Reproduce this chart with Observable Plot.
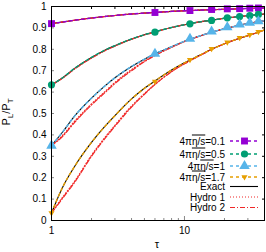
<!DOCTYPE html>
<html><head><meta charset="utf-8">
<script src="https://cdn.jsdelivr.net/npm/d3@7"></script>
<script src="https://cdn.jsdelivr.net/npm/@observablehq/plot@0.6"></script>
<style>body{margin:0;background:#fff} svg{font-family:"Liberation Sans",Arial,sans-serif}</style>
</head><body><div id="chart"></div>
<script>
// Curve sample times
const tau = [1, 1.2, 1.5, 2, 2.5, 3, 4, 5, 6, 8, 10, 13, 16, 20, 25, 30, 36, 40];
// Exact solutions (also followed by the dashed data lines)
const exact01 = [0.92, 0.927, 0.936, 0.946, 0.953, 0.958, 0.965, 0.969, 0.972, 0.977, 0.980, 0.983, 0.985, 0.987, 0.989, 0.991, 0.992, 0.993];
const exact05 = [0.634, 0.665, 0.712, 0.762, 0.795, 0.817, 0.848, 0.868, 0.882, 0.902, 0.915, 0.928, 0.936, 0.945, 0.952, 0.957, 0.962, 0.965];
const exact10 = [0.35, 0.41, 0.49, 0.572, 0.627, 0.667, 0.72, 0.754, 0.779, 0.812, 0.838, 0.862, 0.880, 0.896, 0.910, 0.920, 0.929, 0.934];
const exact17 = [0.035, 0.15, 0.255, 0.365, 0.437, 0.49, 0.568, 0.618, 0.652, 0.703, 0.737, 0.772, 0.800, 0.826, 0.848, 0.864, 0.880, 0.89];
// Hydro 1
const hydro1_01 = [0.92, 0.927, 0.936, 0.946, 0.953, 0.958, 0.965, 0.969, 0.972, 0.977, 0.980, 0.983, 0.985, 0.987, 0.989, 0.991, 0.992, 0.993];
const hydro1_05 = [0.634, 0.664, 0.710, 0.760, 0.793, 0.816, 0.847, 0.867, 0.881, 0.902, 0.915, 0.928, 0.936, 0.945, 0.952, 0.957, 0.962, 0.965];
const hydro1_10 = [0.35, 0.395, 0.465, 0.545, 0.6, 0.645, 0.705, 0.745, 0.773, 0.810, 0.836, 0.861, 0.880, 0.896, 0.910, 0.920, 0.929, 0.934];
const hydro1_17 = [0.035, 0.105, 0.185, 0.305, 0.385, 0.445, 0.535, 0.593, 0.637, 0.696, 0.733, 0.770, 0.799, 0.826, 0.848, 0.864, 0.880, 0.89];
// Hydro 2
const hydro2_01 = [0.92, 0.927, 0.936, 0.946, 0.953, 0.958, 0.965, 0.969, 0.972, 0.977, 0.980, 0.983, 0.985, 0.987, 0.989, 0.991, 0.992, 0.993];
const hydro2_05 = [0.634, 0.663, 0.709, 0.759, 0.792, 0.815, 0.847, 0.867, 0.881, 0.902, 0.915, 0.928, 0.936, 0.945, 0.952, 0.957, 0.962, 0.965];
const hydro2_10 = [0.35, 0.39, 0.46, 0.54, 0.595, 0.64, 0.70, 0.742, 0.771, 0.809, 0.836, 0.861, 0.880, 0.896, 0.910, 0.920, 0.929, 0.934];
const hydro2_17 = [0.035, 0.1, 0.18, 0.30, 0.38, 0.44, 0.53, 0.59, 0.635, 0.695, 0.732, 0.770, 0.799, 0.826, 0.848, 0.864, 0.880, 0.89];
// Marker samples
const tauMarks = [1, 6, 11, 16, 21, 26, 31, 36];
const marks01 = [0.92, 0.972, 0.981, 0.986, 0.989, 0.990, 0.992, 0.993];
const marks05 = [0.634, 0.88, 0.919, 0.935, 0.947, 0.953, 0.958, 0.963];
const marks10 = [0.35, 0.779, 0.849, 0.883, 0.903, 0.916, 0.924, 0.931];
const marks17 = [0.035, 0.65, 0.751, 0.802, 0.833, 0.854, 0.868, 0.882];

const seriesNames = ["0.1", "0.5", "1", "1.7"];
const colors = ["#9400d3", "#009e73", "#56b4e9", "#e69f00"];
const exactAll = [exact01, exact05, exact10, exact17];
const hydro1All = [hydro1_01, hydro1_05, hydro1_10, hydro1_17];
const hydro2All = [hydro2_01, hydro2_05, hydro2_10, hydro2_17];
const marksAll = [marks01, marks05, marks10, marks17];
const yTicks = [0, 0.1, 0.2, 0.3, 0.4, 0.5, 0.6, 0.7, 0.8, 0.9, 1];
const xMajor = [1, 10];
const xMinor = [2, 3, 4, 5, 6, 7, 8, 9, 20, 30, 40];
const legendLabels = ["Exact", "Hydro 1", "Hydro 2"];

const red = "#f02828";
const triDown = {draw(ctx, size) {
  const s = Math.sqrt(size / (3 * Math.sqrt(3) / 4)) ;
  const h = s * Math.sqrt(3) / 2;
  ctx.moveTo(0, h * 2 / 3);
  ctx.lineTo(s / 2, -h / 3);
  ctx.lineTo(-s / 2, -h / 3);
  ctx.closePath();
}};
const symbols = ["square", "circle", "triangle", triDown];

const rows = (arr) => arr.flatMap((vals, i) => tau.map((t, j) => ({t, v: vals[j], s: seriesNames[i]})));
const exactRows = rows(exactAll), h1Rows = rows(hydro1All), h2Rows = rows(hydro2All);
const markRows = marksAll.flatMap((vals, i) => tauMarks.map((t, j) => ({t, v: vals[j], s: seriesNames[i], k: i})));

const marksList = [
  Plot.ruleX([1], {stroke: "#999"}),
  Plot.ruleY([0], {stroke: "#888"}),
  Plot.axisY({ticks: yTicks, tickSize: 0, tickPadding: 5, fontSize: 10, label: null, tickFormat: d => String(+d.toFixed(1))}),
  Plot.axisY({ticks: yTicks, tickSize: -3, anchor: "left", text: null, label: null, stroke: "#888"}),
  Plot.axisY({ticks: yTicks, tickSize: -3, anchor: "right", text: null, label: null}),
  Plot.axisX({ticks: xMajor, tickSize: 0, tickPadding: 6, fontSize: 10, label: null, tickFormat: d => String(d)}),
  Plot.axisX({ticks: xMajor, tickSize: -4, anchor: "bottom", text: null, label: null, stroke: "#888"}),
  Plot.axisX({ticks: xMinor, tickSize: -2, anchor: "bottom", text: null, label: null, stroke: "#888"}),
  Plot.axisX({ticks: xMajor, tickSize: -4, anchor: "top", text: null, label: null}),
  Plot.axisX({ticks: xMinor, tickSize: -2, anchor: "top", text: null, label: null}),
  Plot.line(exactRows, {x: "t", y: "v", z: "s", stroke: "#000", strokeWidth: 1.1, curve: "monotone-x"}),
  Plot.line(h1Rows, {x: "t", y: "v", z: "s", stroke: red, strokeWidth: 1.2, strokeDasharray: "1,2", curve: "monotone-x"}),
  Plot.line(h2Rows, {x: "t", y: "v", z: "s", stroke: red, strokeWidth: 1.2, strokeDasharray: "5,2,1,2", curve: "monotone-x"}),
  Plot.line(exactRows, {x: "t", y: "v", z: "s", stroke: "s", strokeWidth: 1.4, strokeDasharray: "3,3", curve: "monotone-x"}),
  ...seriesNames.map((name, i) => Plot.dot(markRows.filter(d => d.k === i), {x: "t", y: "v", fill: colors[i], symbol: () => symbols[i], r: i === 1 ? 3.6 : 3.9})),
  Plot.frame({stroke: "#000", strokeWidth: 1})
];

const chart = Plot.plot({
  width: 266, height: 252,
  marginLeft: 51, marginRight: 2, marginTop: 6, marginBottom: 32,
  style: {fontFamily: "Liberation Sans, Arial, sans-serif", fontSize: "10px", background: "#fff"},
  x: {type: "log", domain: [1, 40], label: null},
  y: {domain: [0, 1], label: null},
  color: {domain: seriesNames, range: colors},
  marks: marksList
});
document.getElementById("chart").appendChild(chart);

// Labels and legend (pixel layout in the frame)
const svg = d3.select(chart);
const fs = 10;
const yl = svg.append("text").attr("transform", "translate(10,112) rotate(-90)")
  .attr("text-anchor", "middle").attr("font-size", 11).attr("fill", "#000");
yl.append("tspan").text("P");
yl.append("tspan").text("L").attr("font-size", 8).attr("dy", 3);
yl.append("tspan").text("/P").attr("dy", -3);
yl.append("tspan").text("T").attr("font-size", 8).attr("dy", 3);
svg.append("text").attr("x", 157).attr("y", 248).attr("text-anchor", "middle").attr("font-size", 11).text("τ");

const legY = [141, 154, 166, 177, 186.5, 197, 207.5];
const lx = 225, l0 = 230, l1 = 258, lm = 244.5;
seriesNames.forEach((name, i) => {
  const y = legY[i];
  const t = svg.append("text").attr("x", lx).attr("y", y).attr("dy", "0.35em").attr("text-anchor", "end").attr("font-size", fs);
  t.append("tspan").text("4π");
  t.append("tspan").text("η/s").style("text-decoration", "overline");
  t.append("tspan").text("=" + name);
  svg.append("line").attr("x1", l0).attr("x2", l1).attr("y1", y).attr("y2", y).attr("stroke", colors[i]).attr("stroke-width", 1.4).attr("stroke-dasharray", "3,3");
  const sym = typeof symbols[i] === "string" ? {square: d3.symbolSquare, circle: d3.symbolCircle, triangle: d3.symbolTriangle}[symbols[i]] : symbols[i];
  svg.append("path").attr("transform", `translate(${lm},${y})`).attr("d", d3.symbol(sym, (i === 1 ? 3.6 : 3.9) ** 2 * Math.PI)()).attr("fill", colors[i]);
});
const lineStyles = [{stroke: "#000", dash: null}, {stroke: red, dash: "1,2"}, {stroke: red, dash: "5,2,1,2"}];
legendLabels.forEach((lab, j) => {
  const y = legY[4 + j];
  svg.append("text").attr("x", lx).attr("y", y).attr("dy", "0.35em").attr("text-anchor", "end").attr("font-size", fs).text(lab);
  svg.append("line").attr("x1", l0).attr("x2", l1).attr("y1", y).attr("y2", y).attr("stroke", lineStyles[j].stroke).attr("stroke-width", 1.1).attr("stroke-dasharray", lineStyles[j].dash);
});
</script></body></html>
